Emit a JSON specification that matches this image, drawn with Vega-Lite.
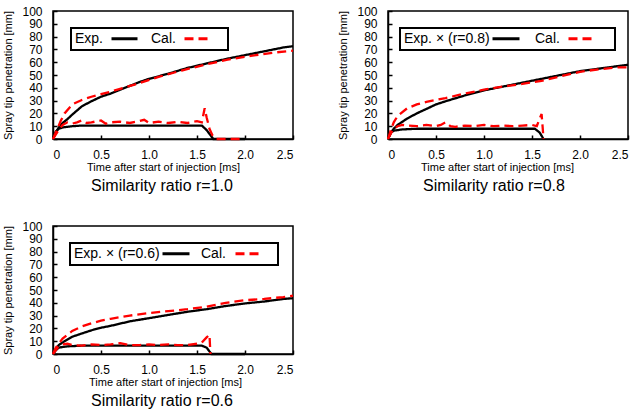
{
  "$schema": "https://vega.github.io/schema/vega-lite/v6.json",
  "padding": {"left": 2, "top": 4, "right": 5, "bottom": 5},
  "background": "white",
  "bounds": "flush",
  "columns": 2,
  "spacing": {"row": 87, "column": 95},
  "config": {
    "font": "Liberation Sans",
    "view": {"stroke": "black", "strokeWidth": 1.5},
    "axis": {
      "grid": false, "domainColor": "black", "tickColor": "black", "labelColor": "black", "titleColor": "black",
      "labelFont": "Liberation Sans", "titleFont": "Liberation Sans", "labelFontSize": 12, "titleFontSize": 11,
      "titleFontWeight": "normal", "tickSize": -4, "domainWidth": 1.5, "tickWidth": 1.5
    },
    "title": {"orient": "bottom", "font": "Liberation Sans", "fontSize": 16, "fontWeight": "normal", "color": "black", "offset": 5, "dx": -11},
    "legend": {
      "orient": "none", "legendX": 18, "legendY": 17, "direction": "horizontal",
      "titleOrient": "left", "titleFont": "Liberation Sans", "titleFontSize": 14, "titleFontWeight": "normal", "titleColor": "black", "titlePadding": 6, "titleBaseline": "middle",
      "strokeColor": "black", "strokeWidth": 2, "padding": 4, "fillColor": "white", "clipHeight": 13,
      "labelFont": "Liberation Sans", "labelFontSize": 14, "labelColor": "black", "labelOffset": 12,
      "symbolType": "stroke", "symbolSize": 676, "symbolStrokeWidth": 3, "columnPadding": 7
    }
  },
  "datasets": {
    "p1": [
      {"t":0,"v":0,"s":"Exp.","k":"pen"},{"t":0.03,"v":5,"s":"Exp.","k":"pen"},{"t":0.06,"v":9,"s":"Exp.","k":"pen"},{"t":0.1,"v":12.5,"s":"Exp.","k":"pen"},{"t":0.15,"v":15.5,"s":"Exp.","k":"pen"},{"t":0.2,"v":19,"s":"Exp.","k":"pen"},{"t":0.3,"v":25.5,"s":"Exp.","k":"pen"},{"t":0.4,"v":29.5,"s":"Exp.","k":"pen"},{"t":0.5,"v":33,"s":"Exp.","k":"pen"},{"t":0.6,"v":35.5,"s":"Exp.","k":"pen"},{"t":0.7,"v":38.5,"s":"Exp.","k":"pen"},{"t":0.8,"v":41.5,"s":"Exp.","k":"pen"},{"t":0.9,"v":44.5,"s":"Exp.","k":"pen"},{"t":1.0,"v":47,"s":"Exp.","k":"pen"},{"t":1.2,"v":51,"s":"Exp.","k":"pen"},{"t":1.4,"v":55.5,"s":"Exp.","k":"pen"},{"t":1.6,"v":59,"s":"Exp.","k":"pen"},{"t":1.8,"v":62.5,"s":"Exp.","k":"pen"},{"t":2.0,"v":65.5,"s":"Exp.","k":"pen"},{"t":2.2,"v":68.5,"s":"Exp.","k":"pen"},{"t":2.4,"v":71.5,"s":"Exp.","k":"pen"},{"t":2.5,"v":72.5,"s":"Exp.","k":"pen"},
      {"t":0,"v":0,"s":"Exp.","k":"rate"},{"t":0.03,"v":6,"s":"Exp.","k":"rate"},{"t":0.06,"v":8,"s":"Exp.","k":"rate"},{"t":0.1,"v":9,"s":"Exp.","k":"rate"},{"t":0.2,"v":10,"s":"Exp.","k":"rate"},{"t":0.3,"v":10.5,"s":"Exp.","k":"rate"},{"t":1.55,"v":10.5,"s":"Exp.","k":"rate"},{"t":1.6,"v":7,"s":"Exp.","k":"rate"},{"t":1.67,"v":0,"s":"Exp.","k":"rate"},{"t":2.0,"v":0,"s":"Exp.","k":"rate"},
      {"t":0,"v":0,"s":"Cal.","k":"pen"},{"t":0.04,"v":7,"s":"Cal.","k":"pen"},{"t":0.08,"v":14,"s":"Cal.","k":"pen"},{"t":0.12,"v":20,"s":"Cal.","k":"pen"},{"t":0.2,"v":27,"s":"Cal.","k":"pen"},{"t":0.3,"v":30.5,"s":"Cal.","k":"pen"},{"t":0.4,"v":33,"s":"Cal.","k":"pen"},{"t":0.5,"v":35,"s":"Cal.","k":"pen"},{"t":0.6,"v":37,"s":"Cal.","k":"pen"},{"t":0.85,"v":42.5,"s":"Cal.","k":"pen"},{"t":1.1,"v":48.5,"s":"Cal.","k":"pen"},{"t":1.34,"v":53.5,"s":"Cal.","k":"pen"},{"t":1.58,"v":58,"s":"Cal.","k":"pen"},{"t":1.82,"v":62,"s":"Cal.","k":"pen"},{"t":2.06,"v":65,"s":"Cal.","k":"pen"},{"t":2.3,"v":67.5,"s":"Cal.","k":"pen"},{"t":2.5,"v":69,"s":"Cal.","k":"pen"},
      {"t":0,"v":0,"s":"Cal.","k":"rate"},{"t":0.05,"v":6,"s":"Cal.","k":"rate"},{"t":0.1,"v":11,"s":"Cal.","k":"rate"},{"t":0.15,"v":13,"s":"Cal.","k":"rate"},{"t":0.2,"v":12,"s":"Cal.","k":"rate"},{"t":0.25,"v":13,"s":"Cal.","k":"rate"},{"t":0.3,"v":14.5,"s":"Cal.","k":"rate"},{"t":0.35,"v":12.5,"s":"Cal.","k":"rate"},{"t":0.4,"v":13,"s":"Cal.","k":"rate"},{"t":0.5,"v":14.5,"s":"Cal.","k":"rate"},{"t":0.55,"v":12,"s":"Cal.","k":"rate"},{"t":0.6,"v":13,"s":"Cal.","k":"rate"},{"t":0.7,"v":13.5,"s":"Cal.","k":"rate"},{"t":0.8,"v":12.5,"s":"Cal.","k":"rate"},{"t":0.9,"v":14,"s":"Cal.","k":"rate"},{"t":0.95,"v":15,"s":"Cal.","k":"rate"},{"t":1.0,"v":12.5,"s":"Cal.","k":"rate"},{"t":1.1,"v":13.5,"s":"Cal.","k":"rate"},{"t":1.2,"v":12.5,"s":"Cal.","k":"rate"},{"t":1.3,"v":13.5,"s":"Cal.","k":"rate"},{"t":1.4,"v":12.5,"s":"Cal.","k":"rate"},{"t":1.5,"v":14,"s":"Cal.","k":"rate"},{"t":1.55,"v":13,"s":"Cal.","k":"rate"},{"t":1.58,"v":24,"s":"Cal.","k":"rate"},{"t":1.6,"v":17,"s":"Cal.","k":"rate"},{"t":1.63,"v":8,"s":"Cal.","k":"rate"},{"t":1.66,"v":3,"s":"Cal.","k":"rate"},{"t":1.7,"v":0,"s":"Cal.","k":"rate"},{"t":1.95,"v":0,"s":"Cal.","k":"rate"}
    ],
    "p2": [
      {"t":0,"v":0,"s":"Exp. × (r=0.8)","k":"pen"},{"t":0.03,"v":5,"s":"Exp. × (r=0.8)","k":"pen"},{"t":0.06,"v":8,"s":"Exp. × (r=0.8)","k":"pen"},{"t":0.1,"v":11,"s":"Exp. × (r=0.8)","k":"pen"},{"t":0.2,"v":16,"s":"Exp. × (r=0.8)","k":"pen"},{"t":0.3,"v":20,"s":"Exp. × (r=0.8)","k":"pen"},{"t":0.4,"v":23.5,"s":"Exp. × (r=0.8)","k":"pen"},{"t":0.5,"v":27,"s":"Exp. × (r=0.8)","k":"pen"},{"t":0.6,"v":29.5,"s":"Exp. × (r=0.8)","k":"pen"},{"t":0.8,"v":34,"s":"Exp. × (r=0.8)","k":"pen"},{"t":1.0,"v":38,"s":"Exp. × (r=0.8)","k":"pen"},{"t":1.2,"v":41,"s":"Exp. × (r=0.8)","k":"pen"},{"t":1.4,"v":44,"s":"Exp. × (r=0.8)","k":"pen"},{"t":1.6,"v":47,"s":"Exp. × (r=0.8)","k":"pen"},{"t":1.8,"v":50,"s":"Exp. × (r=0.8)","k":"pen"},{"t":2.0,"v":53,"s":"Exp. × (r=0.8)","k":"pen"},{"t":2.2,"v":55,"s":"Exp. × (r=0.8)","k":"pen"},{"t":2.4,"v":57,"s":"Exp. × (r=0.8)","k":"pen"},{"t":2.5,"v":58,"s":"Exp. × (r=0.8)","k":"pen"},
      {"t":0,"v":0,"s":"Exp. × (r=0.8)","k":"rate"},{"t":0.03,"v":5,"s":"Exp. × (r=0.8)","k":"rate"},{"t":0.06,"v":6.5,"s":"Exp. × (r=0.8)","k":"rate"},{"t":0.15,"v":7.5,"s":"Exp. × (r=0.8)","k":"rate"},{"t":0.3,"v":8,"s":"Exp. × (r=0.8)","k":"rate"},{"t":1.53,"v":8,"s":"Exp. × (r=0.8)","k":"rate"},{"t":1.58,"v":5,"s":"Exp. × (r=0.8)","k":"rate"},{"t":1.62,"v":0,"s":"Exp. × (r=0.8)","k":"rate"},
      {"t":0,"v":0,"s":"Cal.","k":"pen"},{"t":0.03,"v":7,"s":"Cal.","k":"pen"},{"t":0.06,"v":13,"s":"Cal.","k":"pen"},{"t":0.1,"v":18,"s":"Cal.","k":"pen"},{"t":0.2,"v":24,"s":"Cal.","k":"pen"},{"t":0.3,"v":27,"s":"Cal.","k":"pen"},{"t":0.4,"v":29,"s":"Cal.","k":"pen"},{"t":0.5,"v":30.5,"s":"Cal.","k":"pen"},{"t":0.6,"v":32,"s":"Cal.","k":"pen"},{"t":0.8,"v":35.5,"s":"Cal.","k":"pen"},{"t":1.0,"v":38.5,"s":"Cal.","k":"pen"},{"t":1.2,"v":41,"s":"Cal.","k":"pen"},{"t":1.4,"v":43,"s":"Cal.","k":"pen"},{"t":1.6,"v":45.5,"s":"Cal.","k":"pen"},{"t":1.8,"v":49,"s":"Cal.","k":"pen"},{"t":2.0,"v":52.5,"s":"Cal.","k":"pen"},{"t":2.2,"v":54.5,"s":"Cal.","k":"pen"},{"t":2.4,"v":56,"s":"Cal.","k":"pen"},{"t":2.5,"v":56,"s":"Cal.","k":"pen"},
      {"t":0,"v":0,"s":"Cal.","k":"rate"},{"t":0.05,"v":7,"s":"Cal.","k":"rate"},{"t":0.1,"v":10,"s":"Cal.","k":"rate"},{"t":0.15,"v":11,"s":"Cal.","k":"rate"},{"t":0.2,"v":10.5,"s":"Cal.","k":"rate"},{"t":0.3,"v":10,"s":"Cal.","k":"rate"},{"t":0.4,"v":11,"s":"Cal.","k":"rate"},{"t":0.5,"v":10,"s":"Cal.","k":"rate"},{"t":0.55,"v":11,"s":"Cal.","k":"rate"},{"t":0.6,"v":13,"s":"Cal.","k":"rate"},{"t":0.65,"v":10,"s":"Cal.","k":"rate"},{"t":0.7,"v":9.5,"s":"Cal.","k":"rate"},{"t":0.8,"v":10.5,"s":"Cal.","k":"rate"},{"t":0.9,"v":10,"s":"Cal.","k":"rate"},{"t":1.0,"v":11,"s":"Cal.","k":"rate"},{"t":1.1,"v":10,"s":"Cal.","k":"rate"},{"t":1.2,"v":10.5,"s":"Cal.","k":"rate"},{"t":1.3,"v":10,"s":"Cal.","k":"rate"},{"t":1.4,"v":10.5,"s":"Cal.","k":"rate"},{"t":1.5,"v":11,"s":"Cal.","k":"rate"},{"t":1.55,"v":10,"s":"Cal.","k":"rate"},{"t":1.58,"v":16,"s":"Cal.","k":"rate"},{"t":1.6,"v":19.5,"s":"Cal.","k":"rate"},{"t":1.61,"v":10,"s":"Cal.","k":"rate"},{"t":1.62,"v":0,"s":"Cal.","k":"rate"}
    ],
    "p3": [
      {"t":0,"v":0,"s":"Exp. × (r=0.6)","k":"pen"},{"t":0.03,"v":4,"s":"Exp. × (r=0.6)","k":"pen"},{"t":0.06,"v":7,"s":"Exp. × (r=0.6)","k":"pen"},{"t":0.1,"v":9,"s":"Exp. × (r=0.6)","k":"pen"},{"t":0.2,"v":13.5,"s":"Exp. × (r=0.6)","k":"pen"},{"t":0.3,"v":16,"s":"Exp. × (r=0.6)","k":"pen"},{"t":0.4,"v":18.5,"s":"Exp. × (r=0.6)","k":"pen"},{"t":0.5,"v":20.5,"s":"Exp. × (r=0.6)","k":"pen"},{"t":0.6,"v":22,"s":"Exp. × (r=0.6)","k":"pen"},{"t":0.8,"v":25.5,"s":"Exp. × (r=0.6)","k":"pen"},{"t":1.0,"v":28,"s":"Exp. × (r=0.6)","k":"pen"},{"t":1.2,"v":30.5,"s":"Exp. × (r=0.6)","k":"pen"},{"t":1.4,"v":33,"s":"Exp. × (r=0.6)","k":"pen"},{"t":1.6,"v":35,"s":"Exp. × (r=0.6)","k":"pen"},{"t":1.8,"v":37.5,"s":"Exp. × (r=0.6)","k":"pen"},{"t":2.0,"v":39.5,"s":"Exp. × (r=0.6)","k":"pen"},{"t":2.2,"v":41,"s":"Exp. × (r=0.6)","k":"pen"},{"t":2.4,"v":43,"s":"Exp. × (r=0.6)","k":"pen"},{"t":2.5,"v":43.6,"s":"Exp. × (r=0.6)","k":"pen"},
      {"t":0,"v":0,"s":"Exp. × (r=0.6)","k":"rate"},{"t":0.03,"v":3,"s":"Exp. × (r=0.6)","k":"rate"},{"t":0.06,"v":5,"s":"Exp. × (r=0.6)","k":"rate"},{"t":0.15,"v":6,"s":"Exp. × (r=0.6)","k":"rate"},{"t":0.3,"v":6.5,"s":"Exp. × (r=0.6)","k":"rate"},{"t":1.55,"v":6.5,"s":"Exp. × (r=0.6)","k":"rate"},{"t":1.6,"v":5,"s":"Exp. × (r=0.6)","k":"rate"},{"t":1.65,"v":0,"s":"Exp. × (r=0.6)","k":"rate"},{"t":2.0,"v":0,"s":"Exp. × (r=0.6)","k":"rate"},
      {"t":0,"v":0,"s":"Cal.","k":"pen"},{"t":0.03,"v":5,"s":"Cal.","k":"pen"},{"t":0.06,"v":8,"s":"Cal.","k":"pen"},{"t":0.1,"v":12,"s":"Cal.","k":"pen"},{"t":0.2,"v":18,"s":"Cal.","k":"pen"},{"t":0.3,"v":21.5,"s":"Cal.","k":"pen"},{"t":0.4,"v":24,"s":"Cal.","k":"pen"},{"t":0.5,"v":26,"s":"Cal.","k":"pen"},{"t":0.6,"v":27.5,"s":"Cal.","k":"pen"},{"t":0.8,"v":30,"s":"Cal.","k":"pen"},{"t":1.0,"v":32,"s":"Cal.","k":"pen"},{"t":1.2,"v":33.5,"s":"Cal.","k":"pen"},{"t":1.4,"v":35,"s":"Cal.","k":"pen"},{"t":1.6,"v":37,"s":"Cal.","k":"pen"},{"t":1.8,"v":40,"s":"Cal.","k":"pen"},{"t":2.0,"v":42,"s":"Cal.","k":"pen"},{"t":2.2,"v":43,"s":"Cal.","k":"pen"},{"t":2.4,"v":44.5,"s":"Cal.","k":"pen"},{"t":2.5,"v":45.5,"s":"Cal.","k":"pen"},
      {"t":0,"v":0,"s":"Cal.","k":"rate"},{"t":0.05,"v":5,"s":"Cal.","k":"rate"},{"t":0.1,"v":7.5,"s":"Cal.","k":"rate"},{"t":0.15,"v":8,"s":"Cal.","k":"rate"},{"t":0.2,"v":7,"s":"Cal.","k":"rate"},{"t":0.3,"v":6.5,"s":"Cal.","k":"rate"},{"t":0.4,"v":7.5,"s":"Cal.","k":"rate"},{"t":0.5,"v":7,"s":"Cal.","k":"rate"},{"t":0.6,"v":7.5,"s":"Cal.","k":"rate"},{"t":0.7,"v":8.5,"s":"Cal.","k":"rate"},{"t":0.8,"v":7,"s":"Cal.","k":"rate"},{"t":0.9,"v":7,"s":"Cal.","k":"rate"},{"t":1.0,"v":7.5,"s":"Cal.","k":"rate"},{"t":1.1,"v":7,"s":"Cal.","k":"rate"},{"t":1.2,"v":7.5,"s":"Cal.","k":"rate"},{"t":1.3,"v":7,"s":"Cal.","k":"rate"},{"t":1.4,"v":7,"s":"Cal.","k":"rate"},{"t":1.5,"v":8,"s":"Cal.","k":"rate"},{"t":1.55,"v":9,"s":"Cal.","k":"rate"},{"t":1.6,"v":13,"s":"Cal.","k":"rate"},{"t":1.63,"v":15,"s":"Cal.","k":"rate"},{"t":1.64,"v":0,"s":"Cal.","k":"rate"}
    ]
  },
  "resolve": {"scale": {"color": "independent", "strokeDash": "independent"}},
  "concat": [
    {
      "width": 240, "height": 128,
      "data": {"name": "p1"},
      "title": {"text": "Similarity ratio r=1.0"},
      "mark": {"type": "line", "strokeWidth": 2.3},
      "encoding": {
        "x": {"field": "t", "type": "quantitative", "scale": {"domain": [0, 2.5], "nice": false},
              "axis": {"values": [0, 0.5, 1, 1.5, 2, 2.5], "labelExpr": "datum.value == 0 ? '0' : format(datum.value, '.1f')", "labelPadding": 14.5, "titlePadding": 1, "titleX": 110, "title": "Time after start of injection [ms]"}},
        "y": {"field": "v", "type": "quantitative", "scale": {"domain": [0, 100], "nice": false},
              "axis": {"values": [0,10,20,30,40,50,60,70,80,90,100], "labelPadding": 15, "titlePadding": 8, "title": "Spray tip penetration [mm]"}},
        "color": {"field": "s", "type": "nominal", "sort": null, "scale": {"domain": ["Exp.", "Cal."], "range": ["#000000", "#ff0000"]}, "legend": {"title": "Exp.", "labelExpr": "datum.value == 'Cal.' ? '' : 'Cal.'"}},
        "strokeDash": {"field": "s", "type": "nominal", "sort": null, "scale": {"domain": ["Exp.", "Cal."], "range": [[1, 0], [9, 5]]}, "legend": {"title": "Exp.", "labelExpr": "datum.value == 'Cal.' ? '' : 'Cal.'"}},
        "detail": {"field": "k"}
      }
    },
    {
      "width": 240, "height": 128,
      "data": {"name": "p2"},
      "title": {"text": "Similarity ratio r=0.8", "dx": -14},
      "mark": {"type": "line", "strokeWidth": 2.3},
      "encoding": {
        "x": {"field": "t", "type": "quantitative", "scale": {"domain": [0, 2.5], "nice": false},
              "axis": {"values": [0, 0.5, 1, 1.5, 2, 2.5], "labelExpr": "datum.value == 0 ? '0' : format(datum.value, '.1f')", "labelPadding": 14.5, "titlePadding": 1, "titleX": 109, "title": "Time after start of injection [ms]"}},
        "y": {"field": "v", "type": "quantitative", "scale": {"domain": [0, 100], "nice": false},
              "axis": {"values": [0,10,20,30,40,50,60,70,80,90,100], "labelPadding": 15, "titlePadding": 8, "title": "Spray tip penetration [mm]"}},
        "color": {"field": "s", "type": "nominal", "sort": null, "scale": {"domain": ["Exp. × (r=0.8)", "Cal."], "range": ["#000000", "#ff0000"]}, "legend": {"title": "Exp. × (r=0.8)", "legendX": 12, "titlePadding": 1, "labelOffset": 14, "symbolSize": 729, "labelExpr": "datum.value == 'Cal.' ? '' : 'Cal.'"}},
        "strokeDash": {"field": "s", "type": "nominal", "sort": null, "scale": {"domain": ["Exp. × (r=0.8)", "Cal."], "range": [[1, 0], [9, 5]]}, "legend": {"title": "Exp. × (r=0.8)", "legendX": 12, "titlePadding": 1, "labelOffset": 14, "symbolSize": 729, "labelExpr": "datum.value == 'Cal.' ? '' : 'Cal.'"}},
        "detail": {"field": "k"}
      }
    },
    {
      "width": 240, "height": 128,
      "data": {"name": "p3"},
      "title": {"text": "Similarity ratio r=0.6"},
      "mark": {"type": "line", "strokeWidth": 2.3},
      "encoding": {
        "x": {"field": "t", "type": "quantitative", "scale": {"domain": [0, 2.5], "nice": false},
              "axis": {"values": [0, 0.5, 1, 1.5, 2, 2.5], "labelExpr": "datum.value == 0 ? '0' : format(datum.value, '.1f')", "labelPadding": 14.5, "titlePadding": 1, "titleX": 112, "title": "Time after start of injection [ms]"}},
        "y": {"field": "v", "type": "quantitative", "scale": {"domain": [0, 100], "nice": false},
              "axis": {"values": [0,10,20,30,40,50,60,70,80,90,100], "labelPadding": 15, "titlePadding": 8, "title": "Spray tip penetration [mm]"}},
        "color": {"field": "s", "type": "nominal", "sort": null, "scale": {"domain": ["Exp. × (r=0.6)", "Cal."], "range": ["#000000", "#ff0000"]}, "legend": {"title": "Exp. × (r=0.6)", "legendX": 17, "titlePadding": 1, "labelOffset": 10, "columnPadding": 8, "symbolSize": 729, "labelExpr": "datum.value == 'Cal.' ? '' : 'Cal.'"}},
        "strokeDash": {"field": "s", "type": "nominal", "sort": null, "scale": {"domain": ["Exp. × (r=0.6)", "Cal."], "range": [[1, 0], [9, 5]]}, "legend": {"title": "Exp. × (r=0.6)", "legendX": 17, "titlePadding": 1, "labelOffset": 10, "columnPadding": 8, "symbolSize": 729, "labelExpr": "datum.value == 'Cal.' ? '' : 'Cal.'"}},
        "detail": {"field": "k"}
      }
    }
  ]
}
